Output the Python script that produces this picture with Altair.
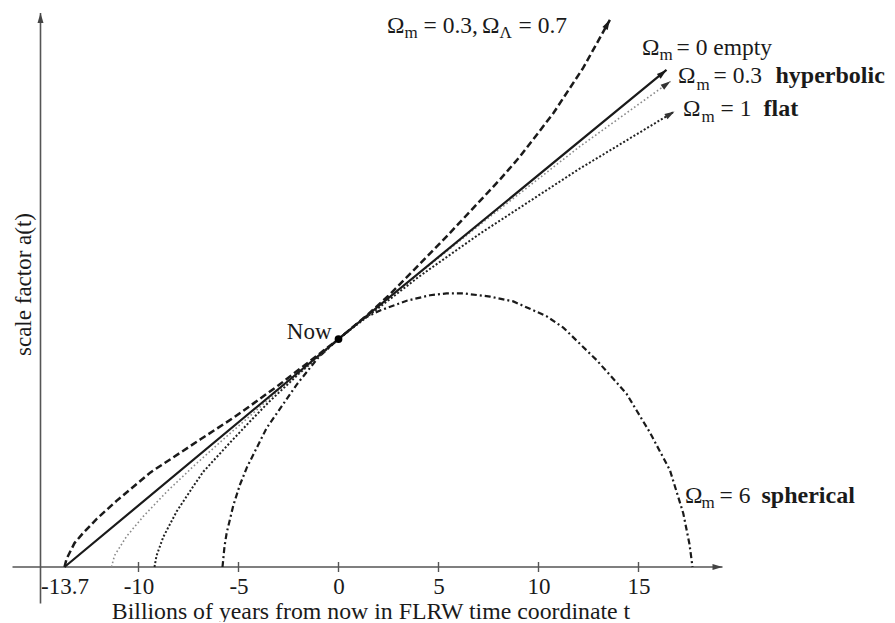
import math
import altair as alt
import pandas as pd

# ---------------- data ----------------
# t: billions of years from now, a: scale factor (a = 1 now)
T_EMPTY = [-13.7, 0.0, 16.4]
A_EMPTY = [0.0, 1.0, 2.18]

T_LCDM = [-13.7, -13.6, -13.4, -13.2, -12.76, -12.1, -11.1, -9.4, -6.9, -5.3, -4.6,
          -3.0, -1.5, 0.0, 1.5, 2.5, 3.74, 5.41, 8.08, 9.07, 10.74, 12.24, 13.57]
A_LCDM = [0.0, 0.035, 0.07, 0.105, 0.15, 0.21, 0.29, 0.415, 0.56, 0.652, 0.695,
          0.797, 0.898, 1.0, 1.11, 1.19, 1.30, 1.45, 1.70, 1.80, 1.99, 2.19, 2.40]

T_HYP = [-11.35, -11.2, -10.6, -9.76, -8.6, -7.26, -5.76, -4.6, -2.7, 0.0, 3.2, 7.77, 12.0, 16.6]
A_HYP = [0.0, 0.05, 0.134, 0.222, 0.329, 0.441, 0.56, 0.649, 0.797, 1.0, 1.23, 1.55, 1.84, 2.13]

T_FLAT = [-9.2, -9.1, -8.76, -8.09, -7.26, -6.76, -5.43, -4.43, -3.5, -2.0, 0.0, 4.0, 7.07, 12.0, 16.8]
A_FLAT = [0.0, 0.049, 0.132, 0.244, 0.354, 0.418, 0.545, 0.638, 0.722, 0.846, 1.0, 1.272, 1.462, 1.744, 1.998]

T_SPH = [-5.8, -5.7, -5.59, -5.26, -4.93, -4.59, -3.59, -2.09, -1.0, 0.0, 1.24, 2.08, 3.41,
         4.58, 5.41, 6.24, 7.58, 8.74, 10.4, 11.24, 12.9, 14.4, 15.57, 16.57, 17.24, 17.55, 17.7]
A_SPH = [0.0, 0.09, 0.15, 0.27, 0.36, 0.435, 0.61, 0.80, 0.92, 1.0, 1.09, 1.125, 1.168,
         1.192, 1.2, 1.2, 1.186, 1.165, 1.10, 1.05, 0.908, 0.76, 0.59, 0.425, 0.235, 0.10, 0.0]

NOW_T = [0.0]
NOW_A = [1.0]

X_TICKS = [-10, -5, 0, 5, 10, 15]
X_LABELS = [-13.7, -10, -5, 0, 5, 10, 15]

# axis lines (data units)
XAXIS_T = [-16.3, 19.2]
YAXIS_T = -14.9
YAXIS_A = [-0.16, 2.43]

# curve annotations: (t, a, text) segments
LAB_REG = [
    (2.425, 2.342, "Ω"), (4.25, 2.342, "= 0.3,"), (7.175, 2.342, "Ω"), (9.0, 2.342, "= 0.7"),
    (15.175, 2.2456, "Ω"), (16.9, 2.2456, "= 0 empty"),
    (16.975, 2.1228, "Ω"), (18.75, 2.1228, "= 0.3"),
    (17.225, 1.978, "Ω"), (19.1, 1.978, "= 1"),
    (17.325, 0.2807, "Ω"), (19.05, 0.2807, "= 6"),
]
LAB_SUB = [
    (3.3, 2.320, "m"), (8.05, 2.320, "Λ"),
    (16.05, 2.2237, "m"), (17.9, 2.0921, "m"), (18.15, 1.9518, "m"), (18.15, 0.2588, "m"),
]
LAB_BOLD = [
    (21.85, 2.1228, "hyperbolic"), (21.25, 1.978, "flat"), (21.15, 0.2807, "spherical"),
]

# ---------------- layout ----------------
W, H = 879, 614
X_DOMAIN = [-16.525, 27.425]
Y_DOMAIN = [-0.2412, 2.4518]
PX_PER_T = W / (X_DOMAIN[1] - X_DOMAIN[0])
PX_PER_A = H / (Y_DOMAIN[1] - Y_DOMAIN[0])
FONT = "Liberation Serif"
INK = "#1a1a1a"

xsc = alt.Scale(domain=X_DOMAIN, nice=False, zero=False)
ysc = alt.Scale(domain=Y_DOMAIN, nice=False, zero=False)

X = alt.X("t:Q", scale=xsc, axis=alt.Axis(
    values=X_LABELS, labelExpr="toString(datum.value)", domain=False, ticks=False,
    grid=False, offset=-55, labelPadding=8, labelFontSize=23, labelFont=FONT,
    labelColor=INK, labelFlush=False, labelOverlap=False,
    title="Billions of years from now in FLRW time coordinate t", titleFont=FONT,
    titleFontSize=23.8, titleFontWeight="normal", titleColor=INK, titleX=362.5,
    titleY=51, titleBaseline="alphabetic", titleAlign="center"))
Y = alt.Y("a:Q", scale=ysc, axis=alt.Axis(
    domain=False, ticks=False, labels=False, grid=False, offset=-32,
    title="scale factor a(t)", titleFont=FONT, titleFontSize=23,
    titleFontWeight="normal", titleColor=INK, titleAngle=270, titleX=-10,
    titleY=276, titleBaseline="alphabetic", titleAlign="center"))


def df(ts, as_):
    return pd.DataFrame({"t": ts, "a": as_})


def curve(ts, as_, **kw):
    return alt.Chart(df(ts, as_)).mark_line(**kw).encode(x=X, y=Y, order="t:Q")


def arrow_angle(ts, as_):
    dx = (ts[-1] - ts[-2]) * PX_PER_T
    dy = (as_[-1] - as_[-2]) * PX_PER_A
    return math.degrees(math.atan2(dx, dy)) % 360


ARROW = "M0,0L-0.3,1L0.3,1Z"

layers = []

# axes lines
layers.append(alt.Chart(pd.DataFrame({"t": [XAXIS_T[0]], "t2": [XAXIS_T[1]], "a": [0.0]}))
              .mark_rule(color="#555", strokeWidth=1.6)
              .encode(x=X, x2="t2:Q", y=Y))
layers.append(alt.Chart(pd.DataFrame({"t": [YAXIS_T], "a": [YAXIS_A[0]], "a2": [YAXIS_A[1]]}))
              .mark_rule(color="#555", strokeWidth=1.6)
              .encode(x=X, y=Y, y2="a2:Q"))
# ticks
layers.append(alt.Chart(pd.DataFrame({"t": X_TICKS, "a": [-0.022] * len(X_TICKS),
                                      "a2": [0.022] * len(X_TICKS)}))
              .mark_rule(color="#555", strokeWidth=1.4)
              .encode(x=X, y=Y, y2="a2:Q"))

# curves
layers.append(curve(T_SPH, A_SPH, color=INK, strokeWidth=2.2, strokeDash=[6, 3, 2, 3]))
layers.append(curve(T_FLAT, A_FLAT, color="#222", strokeWidth=2.0, strokeDash=[2, 2]))
layers.append(curve(T_HYP, A_HYP, color="#8a8a8a", strokeWidth=1.6, strokeDash=[1.6, 2.4]))
layers.append(curve(T_EMPTY, A_EMPTY, color=INK, strokeWidth=2.2))
layers.append(curve(T_LCDM, A_LCDM, color=INK, strokeWidth=2.5, strokeDash=[7, 3.5]))

# arrowheads
arrows = pd.DataFrame({
    "t": [T_LCDM[-1], T_EMPTY[-1], T_HYP[-1], T_FLAT[-1], XAXIS_T[1], YAXIS_T],
    "a": [A_LCDM[-1], A_EMPTY[-1], A_HYP[-1], A_FLAT[-1], 0.0, YAXIS_A[1]],
    "ang": [arrow_angle(T_LCDM, A_LCDM), arrow_angle(T_EMPTY, A_EMPTY),
            arrow_angle(T_HYP, A_HYP), arrow_angle(T_FLAT, A_FLAT), 90.0, 0.0],
    "col": [INK, INK, "#333", "#333", "#444", "#444"],
})
layers.append(alt.Chart(arrows).mark_point(shape=ARROW, filled=True, size=400, opacity=1,
                                           strokeWidth=0)
              .encode(x=X, y=Y, angle=alt.Angle("ang:Q", scale=None),
                      color=alt.Color("col:N", scale=None)))

# Now point
layers.append(alt.Chart(df(NOW_T, NOW_A)).mark_circle(size=60, color="black", opacity=1)
              .encode(x=X, y=Y))
layers.append(alt.Chart(pd.DataFrame({"t": NOW_T, "a": NOW_A, "txt": ["Now"]}))
              .mark_text(font=FONT, fontSize=23, color=INK, align="right",
                         baseline="alphabetic", dx=-7)
              .encode(x=X, y=Y, text="txt:N"))


def text_layer(rows, size, weight):
    d = pd.DataFrame(rows, columns=["t", "a", "txt"])
    return (alt.Chart(d).mark_text(font=FONT, fontSize=size, fontWeight=weight, color=INK,
                                   align="left", baseline="alphabetic")
            .encode(x=X, y=Y, text="txt:N"))


layers.append(text_layer(LAB_REG, 23.5, "normal"))
layers.append(text_layer(LAB_SUB, 17, "normal"))
layers.append(text_layer(LAB_BOLD, 24, "bold"))

chart = (alt.layer(*layers)
         .properties(width=W, height=H, autosize=alt.AutoSizeParams(type="none"), padding=0,
                     background="white")
         .configure_view(stroke=None))

chart.save("out.html", embed_options={"renderer": "svg", "actions": False})
